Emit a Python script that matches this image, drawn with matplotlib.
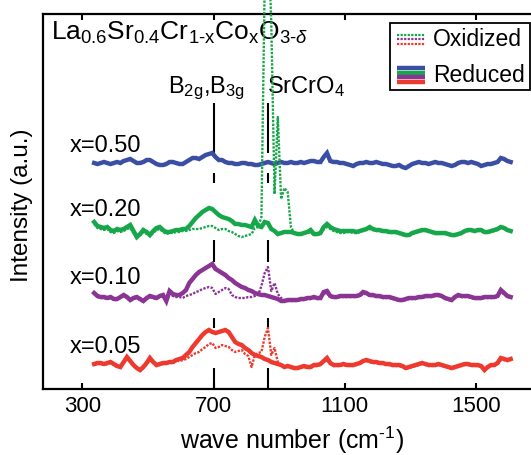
import numpy as np
import matplotlib
matplotlib.use("Agg")
import matplotlib.pyplot as plt
from matplotlib.lines import Line2D
from matplotlib.patches import Rectangle

plt.rcParams['font.family'] = ['Liberation Sans', 'DejaVu Sans']
plt.rcParams['mathtext.fontset'] = 'custom'
plt.rcParams['mathtext.rm'] = 'Liberation Sans'
plt.rcParams['mathtext.it'] = 'Liberation Sans:italic'
plt.rcParams['mathtext.sf'] = 'Liberation Sans'

# ---------------- data ----------------
wavenumber = np.arange(336, 1607, 10)  # cm^-1 sample positions

compositions = ["x=0.05", "x=0.10", "x=0.20", "x=0.50"]
offsets = [0, 67, 133, 202]
label_dy = [18, 20, 22, 17]

red_reduced = [
    1, 2, 2, 1, 2, 3, 1, -1, -2, 3,
    8, 4, 0, -3, -5, -2, 2, 7, 3, 0,
    1, 2, 2, 3, 3, 5, 6, 7, 10, 13,
    18, 22, 26, 30, 33, 35, 33, 32, 33, 34,
    35, 33, 28, 23, 21, 20, 17, 15, 12, 10,
    9, 8, 6, 5, 3, 2, 1, 0, -2, -1,
    -2, -3, -3, -2, -1, -2, -2, 0, 0, 1,
    4, 7, 2, 0, 0, 0, 1, 0, 0, 0,
    1, 2, 4, 5, 4, 3, 3, 2, 2, 1,
    1, 0, 0, 0, -1, -3, -2, -1, 0, 1,
    2, 1, 0, 0, 0, 1, 0, -1, -2, -3,
    -2, -1, 0, 1, 1, 0, 0, 0, -1, -5,
    -2, 0, 0, 2, 7, 6, 5, 6]
red_oxidized = [
    0, 1, 1, 0, 1, 2, 0, -2, -3, 2,
    6, 3, -1, -4, -6, -3, 1, 5, 2, -1,
    0, 1, 1, 2, 2, 4, 4, 5, 6, 8,
    10, 12, 13, 16, 18, 21, 22, 17, 18, 20,
    19, 18, 15, 13, 14, 15, 11, 9, -2, 10,
    12, 13, 28, 37, 10, 17, 3, 0, -2, -2,
    -3, -4, -4, -3, -2, -3, -3, -1, -1, 0,
    3, 5, 1, -1, -1, -1, 0, -1, -1, -1,
    0, 1, 3, 4, 3, 2, 2, 1, 1, 0,
    0, -1, -1, -1, -2, -4, -3, -2, -1, 0,
    1, 0, -1, -1, -1, 0, -1, -2, -3, -4,
    -3, -2, -1, 0, 0, -1, -1, -1, -2, -6,
    -3, -1, -1, 1, 5, 5, 4, 4]
purple_reduced = [
    5, 2, 1, 1, 0, 1, -1, -1, 1, 3,
    1, -2, 0, 1, -1, -3, 0, 2, 1, 0,
    2, 3, -3, 7, 4, 3, 3, 5, 8, 15,
    19, 23, 26, 28, 30, 32, 34, 29, 27, 25,
    23, 20, 18, 15, 13, 11, 10, 8, 7, 5,
    4, 3, 3, 2, 1, 0, -1, -3, -3, -2,
    -2, -2, -2, -1, -1, 0, 0, 1, 0, 0,
    6, 7, 2, 1, 1, 2, 2, 2, 2, 2,
    2, 3, 6, 5, 3, 3, 2, 2, 1, 1,
    1, 0, -1, -2, -2, -1, 0, 0, 0, 1,
    1, 2, 2, 2, 3, 3, 2, 0, -1, -2,
    1, 3, 2, 2, 2, 1, 0, 0, 0, 1,
    1, 1, 1, 2, 8, 5, 2, 1]
purple_oxidized = [
    4, 1, 0, 0, -1, 0, -2, -2, 0, 2,
    0, -3, -1, 0, -2, -4, -1, 1, 0, -1,
    1, 2, -4, 5, 2, 1, 1, 0, 2, 3,
    4, 6, 7, 9, 10, 11, 10, 4, 6, 8,
    10, 9, 3, 1, 0, 0, 0, 1, 1, 2,
    3, 12, 25, 31, 7, 15, 4, 0, -2, -3,
    -3, -3, -3, -2, -2, -1, -1, 0, -1, -1,
    4, 5, 1, 0, 0, 1, 1, 1, 1, 1,
    1, 2, 4, 4, 2, 2, 1, 1, 0, 0,
    0, -1, -2, -3, -3, -2, -1, -1, -1, 0,
    0, 1, 1, 1, 2, 2, 1, -1, -2, -3,
    0, 2, 1, 1, 1, 0, -1, -1, -1, 0,
    0, 0, 0, 1, 6, 4, 1, 0]
green_reduced = [
    10, 6, 5, 4, 5, 2, 1, 3, 2, 3,
    5, 7, 1, -5, -2, 2, 0, -3, 1, 4,
    5, 2, 0, 0, 1, 2, 2, 3, 3, 6,
    10, 14, 17, 20, 22, 24, 23, 20, 17, 15,
    14, 13, 11, 8, 8, 7, 7, 6, 5, 12,
    6, 5, 10, 9, 3, 1, -2, -1, 0, 0,
    0, -1, -2, -2, -1, 0, 2, -2, -2, -1,
    5, 8, 5, 3, 2, 1, 1, 1, 1, 1,
    0, 1, 2, 3, 5, 3, 2, 2, 1, 1,
    0, 0, 0, -1, -2, -3, -3, -1, 0, 1,
    2, 2, 1, 0, -1, -1, -1, -1, -2, -3,
    -3, -2, -1, 1, 2, 2, 1, 2, 2, 0,
    0, 1, 2, 3, 5, 4, 2, 1]
green_oxidized = [
    8, 4, 3, 2, 3, 0, -1, 1, 0, 1,
    3, 4, -1, -6, -3, 0, -2, -4, -1, 2,
    3, 0, -2, -1, -1, 0, 0, 1, 1, 2,
    3, 3, 3, 4, 5, 6, 6, 4, 2, 3,
    3, 1, 0, -2, -4, -5, -4, -3, -2, 4,
    5, 15, 250, 300, 210, 38, 115, 33, 44, 40,
    5, -1, -2, -3, -2, -1, 0, -3, -3, -2,
    3, 5, 3, 1, 0, -1, -1, 0, 0, -1,
    -1, 0, 1, 2, 3, 2, 1, 1, 0, 0,
    -1, -1, -1, -2, -3, -4, -4, -2, -1, 0,
    1, 1, 0, -1, -2, -2, -2, -2, -3, -4,
    -4, -3, -2, 0, 1, 1, 0, 1, 1, -1,
    -1, 0, 1, 2, 4, 3, 1, 0]
blue_reduced = [
    0, -1, 0, 1, 0, -1, 0, 1, 0, 2,
    3, 4, 2, 0, 0, 1, 3, 3, 1, -1,
    -2, -2, -1, 1, 1, 0, -1, -1, 1, 3,
    5, 5, 4, 6, 8, 9, 10, 6, 3, 3,
    1, 0, 0, -1, -1, 0, 0, -1, -1, -2,
    -2, -1, 0, 1, 0, -1, 0, 1, 0, 0,
    1, 0, 0, 1, 0, 1, 2, 2, 1, 1,
    6, 10, 2, 1, 1, 0, 0, -1, -2, -3,
    -1, 0, 0, 1, 0, 0, 1, 0, -1, -1,
    -2, -3, -3, -2, -4, -5, -3, -1, 0, 1,
    0, 0, -1, 0, 1, 0, 0, -1, -2, -3,
    -2, 0, 1, 1, 0, 1, 0, -1, -3, -2,
    -1, -1, 0, 1, 5, 4, 2, 1]

reduced_series = [red_reduced, purple_reduced, green_reduced, blue_reduced]
oxidized_series = [red_oxidized, purple_oxidized, green_oxidized, None]
colors = ["#ee3a2e", "#8a3494", "#17a74b", "#3a4fa3"]

peak_positions = [700, 866]
peak_labels = [r"B$_{\mathrm{2g}}$,B$_{\mathrm{3g}}$", r"SrCrO$_{\mathrm{4}}$"]
xticks = [300, 700, 1100, 1500]

# ---------------- figure ----------------
W, H = 531, 455
fig = plt.figure(figsize=(W / 100, H / 100), dpi=100)
ax_l, ax_r, ax_t, ax_b = 43, 531, 14, 389
ax = fig.add_axes([ax_l / W, 1 - ax_b / H, (ax_r - ax_l) / W, (ax_b - ax_t) / H])

for red_vals, ox_vals, off, col in zip(reduced_series, oxidized_series, offsets, colors):
    ax.plot(wavenumber, np.array(red_vals) + off, color=col, lw=3.2,
            solid_joinstyle='miter', zorder=3)
    if ox_vals is not None:
        big = max(ox_vals) > 100
        ax.plot(wavenumber, np.array(ox_vals) + off, color=col, lw=1.7,
                linestyle=(0, (1.0, 0.6)), zorder=5 if big else 4,
                clip_on=not big)

for lab, off, dy in zip(compositions, offsets, label_dy):
    ax.text(263, off + dy, lab, fontsize=17, va='center', ha='left')

# dashed guide lines at band positions
segments = [(212, 262), (182, 192), (103, 125), (37, 47), (-24, -3)]
for xp in peak_positions:
    for y0, y1 in segments:
        ax.plot([xp, xp], [y0, y1], color='black', lw=1.5, zorder=2,
                solid_capstyle='butt')

ax.text(677, 272, peak_labels[0], fontsize=17, ha='center', va='baseline')
ax.text(864, 272, peak_labels[1], fontsize=17, ha='left', va='baseline')

ax.text(203, 325,
        r"La$_{\mathrm{0.6}}$Sr$_{\mathrm{0.4}}$Cr$_{\mathrm{1\text{-}x}}$"
        r"Co$_{\mathrm{x}}$O$_{\mathrm{3\text{-}}\delta}$",
        fontsize=19, ha='left', va='baseline')

ax.set_xlim(180, 1668)
ax.set_ylim(-24, 351)
ax.set_xticks(xticks)
ax.set_yticks([])
ax.tick_params(axis='x', which='both', direction='in', top=True, length=4,
               width=1.5, labelsize=16, pad=5)
for s in ['left', 'bottom', 'top']:
    ax.spines[s].set_linewidth(1.6)
ax.spines['right'].set_visible(False)

fig.text(292 / W, 1 - 440 / H, r"wave number (cm$^{\mathrm{\text{-}1}}$)", fontsize=18,
         ha='center', va='center')
fig.text(22 / W, 1 - 205 / H, "Intensity (a.u.)", fontsize=17.5,
         ha='center', va='center', rotation=90)

# ---------------- legend (drawn in figure pixels) ----------------
def fx(px):
    return px / W

def fy(py):
    return 1 - py / H

fig.patches.append(Rectangle((fx(390), fy(90)), fx(530) - fx(390), fy(23) - fy(90),
                             transform=fig.transFigure, facecolor='white',
                             edgecolor='black', lw=1.3, zorder=10))
for py, col in zip([35, 39.3, 43.6], [colors[2], colors[1], colors[0]]):
    fig.lines.append(Line2D([fx(397), fx(425)], [fy(py), fy(py)], color=col, lw=1.6,
                            linestyle=(0, (1.0, 0.6)), transform=fig.transFigure,
                            zorder=11))
for py, col in zip([68, 72.5, 77, 81.5], [colors[3], colors[2], colors[1], colors[0]]):
    fig.lines.append(Line2D([fx(397), fx(425)], [fy(py), fy(py)], color=col, lw=3.2,
                            transform=fig.transFigure, zorder=11,
                            solid_capstyle='butt'))
fig.text(fx(433), fy(40), "Oxidized", fontsize=16.5, ha='left', va='center', zorder=12)
fig.text(fx(433), fy(75), "Reduced", fontsize=16.5, ha='left', va='center', zorder=12)

fig.savefig("out.png", dpi=100)
